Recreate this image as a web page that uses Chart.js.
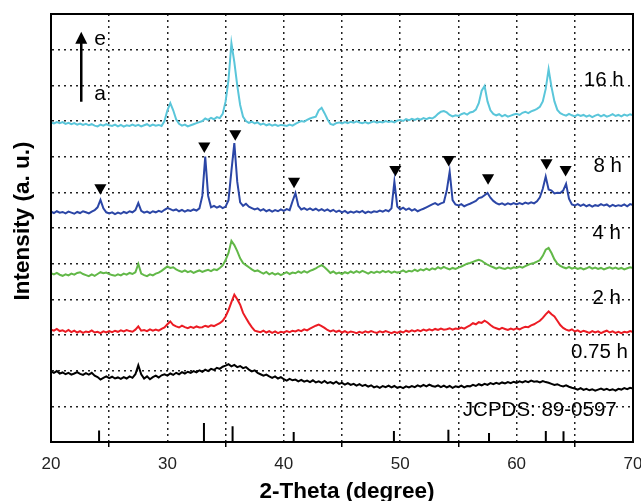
<!DOCTYPE html>
<html>
<head>
<meta charset="utf-8">
<script src="https://cdn.jsdelivr.net/npm/chart.js@4.4.1/dist/chart.umd.min.js"></script>
<style>
    html, body { margin: 0; padding: 0; background: #fff; }
    #wrap { width: 641px; height: 501px; }
</style>
</head>
<body>
<div id="wrap"><canvas id="xrd"></canvas></div>
<script>
// 2-theta grid (degree)
var twoTheta = [
    20, 20.25, 20.5, 20.75, 21, 21.25, 21.5, 21.75, 22, 22.25, 22.5, 22.75, 23, 23.25, 23.5, 23.75,
    24, 24.25, 24.5, 24.75, 25, 25.25, 25.5, 25.75, 26, 26.25, 26.5, 26.75, 27, 27.25, 27.5, 27.75,
    28, 28.25, 28.5, 28.75, 29, 29.25, 29.5, 29.75, 30, 30.25, 30.5, 30.75, 31, 31.25, 31.5, 31.75,
    32, 32.25, 32.5, 32.75, 33, 33.25, 33.5, 33.75, 34, 34.25, 34.5, 34.75, 35, 35.25, 35.5, 35.75,
    36, 36.25, 36.5, 36.75, 37, 37.25, 37.5, 37.75, 38, 38.25, 38.5, 38.75, 39, 39.25, 39.5, 39.75,
    40, 40.25, 40.5, 40.75, 41, 41.25, 41.5, 41.75, 42, 42.25, 42.5, 42.75, 43, 43.25, 43.5, 43.75,
    44, 44.25, 44.5, 44.75, 45, 45.25, 45.5, 45.75, 46, 46.25, 46.5, 46.75, 47, 47.25, 47.5, 47.75,
    48, 48.25, 48.5, 48.75, 49, 49.25, 49.5, 49.75, 50, 50.25, 50.5, 50.75, 51, 51.25, 51.5, 51.75,
    52, 52.25, 52.5, 52.75, 53, 53.25, 53.5, 53.75, 54, 54.25, 54.5, 54.75, 55, 55.25, 55.5, 55.75,
    56, 56.25, 56.5, 56.75, 57, 57.25, 57.5, 57.75, 58, 58.25, 58.5, 58.75, 59, 59.25, 59.5, 59.75,
    60, 60.25, 60.5, 60.75, 61, 61.25, 61.5, 61.75, 62, 62.25, 62.5, 62.75, 63, 63.25, 63.5, 63.75,
    64, 64.25, 64.5, 64.75, 65, 65.25, 65.5, 65.75, 66, 66.25, 66.5, 66.75, 67, 67.25, 67.5, 67.75,
    68, 68.25, 68.5, 68.75, 69, 69.25, 69.5, 69.75, 70
];

// stacked patterns (a. u., offset included)
var pattern075h = [
    1.98, 1.94, 1.99, 1.92, 1.95, 1.90, 1.94, 1.89, 1.92, 1.96, 1.91, 1.88, 1.93, 1.89, 1.94, 1.86,
    1.82, 1.75, 1.80, 1.84, 1.79, 1.83, 1.78, 1.81, 1.77, 1.82, 1.78, 1.84, 1.80, 1.90, 2.15, 1.90,
    1.78, 1.84, 1.76, 1.82, 1.86, 1.81, 1.87, 1.90, 1.86, 1.92, 1.88, 1.94, 1.90, 1.96, 1.92, 1.97,
    1.94, 1.99, 1.95, 2.01, 1.97, 2.03, 1.99, 2.05, 2.02, 2.08, 2.05, 2.11, 2.14, 2.18, 2.12, 2.16,
    2.10, 2.13, 2.07, 2.10, 2.03, 1.98, 2.01, 1.94, 1.90, 1.86, 1.89, 1.84, 1.80, 1.84, 1.78, 1.82,
    1.76, 1.72, 1.77, 1.73, 1.75, 1.70, 1.74, 1.69, 1.72, 1.68, 1.73, 1.67, 1.70, 1.66, 1.71, 1.65,
    1.68, 1.64, 1.69, 1.63, 1.66, 1.61, 1.65, 1.60, 1.63, 1.58, 1.62, 1.57, 1.60, 1.55, 1.59, 1.53,
    1.56, 1.52, 1.57, 1.54, 1.58, 1.53, 1.57, 1.52, 1.55, 1.51, 1.56, 1.53, 1.57, 1.54, 1.59, 1.55,
    1.60, 1.56, 1.61, 1.57, 1.55, 1.59, 1.54, 1.58, 1.53, 1.57, 1.52, 1.56, 1.54, 1.58, 1.53, 1.57,
    1.56, 1.60, 1.57, 1.62, 1.59, 1.63, 1.60, 1.65, 1.62, 1.66, 1.63, 1.67, 1.64, 1.68, 1.65, 1.69,
    1.66, 1.70, 1.67, 1.71, 1.68, 1.72, 1.69, 1.70, 1.67, 1.71, 1.68, 1.66, 1.63, 1.60, 1.62, 1.58,
    1.56, 1.59, 1.55, 1.52, 1.50, 1.47, 1.51, 1.46, 1.49, 1.45, 1.48, 1.44, 1.47, 1.50, 1.46, 1.49,
    1.45, 1.48, 1.44, 1.49, 1.47, 1.51, 1.48, 1.52, 1.50
];
var pattern2h = [
    3.15, 3.12, 3.17, 3.11, 3.13, 3.09, 3.14, 3.08, 3.12, 3.07, 3.11, 3.06, 3.10, 3.08, 3.13, 3.07,
    3.09, 3.05, 3.10, 3.07, 3.11, 3.08, 3.12, 3.09, 3.13, 3.10, 3.14, 3.11, 3.09, 3.15, 3.24, 3.12,
    3.14, 3.11, 3.16, 3.12, 3.15, 3.12, 3.17, 3.21, 3.30, 3.38, 3.28, 3.24, 3.21, 3.26, 3.22, 3.19,
    3.23, 3.20, 3.24, 3.21, 3.22, 3.26, 3.23, 3.27, 3.25, 3.29, 3.33, 3.40, 3.52, 3.70, 3.92, 4.13,
    4.00, 3.85, 3.62, 3.48, 3.34, 3.22, 3.12, 3.10, 3.08, 3.12, 3.07, 3.11, 3.06, 3.10, 3.05, 3.09,
    3.07, 3.11, 3.08, 3.12, 3.10, 3.14, 3.11, 3.16, 3.13, 3.18, 3.22, 3.26, 3.29, 3.25, 3.20, 3.14,
    3.10, 3.13, 3.09, 3.12, 3.07, 3.11, 3.06, 3.10, 3.08, 3.05, 3.09, 3.06, 3.10, 3.07, 3.11, 3.08,
    3.06, 3.10, 3.07, 3.11, 3.08, 3.05, 3.09, 3.06, 3.10, 3.07, 3.12, 3.09, 3.13, 3.10, 3.14, 3.11,
    3.15, 3.12, 3.16, 3.13, 3.17, 3.14, 3.18, 3.15, 3.16, 3.19, 3.15, 3.18, 3.17, 3.21, 3.18, 3.23,
    3.27, 3.33, 3.30, 3.36, 3.34, 3.40, 3.35, 3.28, 3.22, 3.19, 3.16, 3.20, 3.17, 3.14, 3.18, 3.15,
    3.19, 3.16, 3.20, 3.23, 3.22, 3.27, 3.30, 3.35, 3.40, 3.48, 3.58, 3.66, 3.58, 3.52, 3.40, 3.28,
    3.20, 3.15, 3.12, 3.16, 3.10, 3.13, 3.08, 3.12, 3.09, 3.06, 3.11, 3.07, 3.10, 3.05, 3.09, 3.12,
    3.07, 3.10, 3.06, 3.09, 3.05, 3.09, 3.07, 3.11, 3.08
];
var pattern4h = [
    4.73, 4.70, 4.74, 4.69, 4.66, 4.70, 4.67, 4.72, 4.69, 4.74, 4.76, 4.71, 4.68, 4.65, 4.70, 4.66,
    4.71, 4.76, 4.73, 4.75, 4.71, 4.68, 4.66, 4.70, 4.67, 4.72, 4.69, 4.74, 4.71, 4.76, 4.99, 4.72,
    4.68, 4.65, 4.70, 4.67, 4.72, 4.75, 4.80, 4.86, 4.92, 4.88, 4.90, 4.84, 4.80, 4.77, 4.81, 4.76,
    4.79, 4.74, 4.78, 4.81, 4.77, 4.80, 4.83, 4.79, 4.84, 4.82, 4.88, 4.95, 5.10, 5.30, 5.64, 5.52,
    5.35, 5.15, 5.02, 4.96, 4.90, 4.84, 4.79, 4.81, 4.76, 4.72, 4.77, 4.70, 4.74, 4.69, 4.73, 4.68,
    4.72, 4.76, 4.71, 4.75, 4.73, 4.78, 4.74, 4.79, 4.75, 4.80, 4.83, 4.87, 4.92, 4.96, 4.90, 4.82,
    4.74, 4.78, 4.72, 4.75, 4.71, 4.76, 4.73, 4.78, 4.74, 4.79, 4.75, 4.80, 4.76, 4.72, 4.77, 4.74,
    4.78, 4.75, 4.80, 4.76, 4.79, 4.74, 4.78, 4.75, 4.77, 4.81, 4.76, 4.80, 4.78, 4.83, 4.79, 4.84,
    4.81, 4.86, 4.82, 4.87, 4.84, 4.90, 4.86, 4.91, 4.87, 4.84, 4.88, 4.85, 4.89, 4.92, 4.96, 5.00,
    5.02, 5.05, 5.08, 5.11, 5.08, 5.02, 4.97, 4.93, 4.90, 4.86, 4.90, 4.87, 4.85, 4.89, 4.86, 4.90,
    4.88, 4.92, 4.89, 4.93, 4.97, 5.00, 5.02, 5.06, 5.10, 5.22, 5.39, 5.44, 5.30, 5.12, 5.00, 4.94,
    4.90, 4.87, 4.91, 4.86, 4.89, 4.85, 4.88, 4.84, 4.87, 4.91, 4.86, 4.89, 4.85, 4.88, 4.84, 4.87,
    4.90, 4.86, 4.89, 4.85, 4.88, 4.84, 4.87, 4.90, 4.88
];
var pattern8h = [
    6.46, 6.42, 6.47, 6.43, 6.45, 6.41, 6.46, 6.43, 6.40, 6.45, 6.42, 6.47, 6.44, 6.41, 6.46, 6.50,
    6.58, 6.79, 6.55, 6.44, 6.41, 6.44, 6.39, 6.43, 6.40, 6.45, 6.42, 6.47, 6.44, 6.50, 6.70, 6.48,
    6.43, 6.46, 6.42, 6.47, 6.44, 6.48, 6.45, 6.51, 6.56, 6.53, 6.49, 6.52, 6.47, 6.51, 6.46, 6.50,
    6.48, 6.52, 6.49, 6.55, 6.90, 8.00, 6.90, 6.58, 6.62, 6.57, 6.61, 6.56, 6.60, 6.78, 7.60, 8.38,
    7.30, 6.72, 6.62, 6.68, 6.60, 6.56, 6.52, 6.55, 6.49, 6.53, 6.47, 6.51, 6.46, 6.50, 6.47, 6.52,
    6.48, 6.53, 6.50, 6.75, 6.98, 6.62, 6.52, 6.56, 6.51, 6.55, 6.50, 6.54, 6.49, 6.53, 6.48, 6.52,
    6.47, 6.51, 6.45, 6.49, 6.44, 6.48, 6.42, 6.46, 6.43, 6.47, 6.44, 6.48, 6.42, 6.46, 6.43, 6.47,
    6.45, 6.49, 6.46, 6.50, 6.47, 6.55, 7.30, 6.60, 6.52, 6.57, 6.51, 6.55, 6.49, 6.53, 6.47, 6.51,
    6.54, 6.58, 6.62, 6.66, 6.70, 6.65, 6.69, 6.72, 7.05, 7.58, 6.78, 6.66, 6.63, 6.67, 6.61, 6.65,
    6.68, 6.72, 6.76, 6.84, 6.86, 6.92, 6.98, 6.85, 6.76, 6.70, 6.66, 6.69, 6.65, 6.69, 6.66, 6.70,
    6.66, 6.70, 6.67, 6.71, 6.68, 6.72, 6.69, 6.75, 6.86, 7.10, 7.44, 7.08, 7.05, 6.97, 6.99, 6.98,
    7.05, 7.24, 6.82, 6.66, 6.63, 6.67, 6.62, 6.66, 6.61, 6.65, 6.60, 6.64, 6.62, 6.67, 6.63, 6.66,
    6.60, 6.65, 6.61, 6.64, 6.62, 6.66, 6.61, 6.67, 6.64
];
var pattern16h = [
    8.96, 8.93, 8.97, 8.94, 8.97, 8.92, 8.95, 8.91, 8.94, 8.90, 8.93, 8.89, 8.92, 8.88, 8.91, 8.87,
    8.85, 8.90, 8.87, 8.91, 8.88, 8.86, 8.90, 8.85, 8.89, 8.84, 8.88, 8.86, 8.90, 8.86, 8.89, 8.85,
    8.88, 8.91, 8.86, 8.90, 8.87, 8.89, 8.86, 9.00, 9.30, 9.50, 9.30, 9.05, 8.92, 8.87, 8.90, 8.85,
    8.88, 8.91, 8.94, 8.97, 9.00, 9.07, 9.03, 9.09, 9.05, 9.11, 9.08, 9.20, 9.55, 10.15, 11.18, 10.65,
    10.00, 9.45, 9.12, 9.00, 8.95, 8.98, 8.93, 8.96, 8.90, 8.93, 8.88, 8.91, 8.87, 8.90, 8.86, 8.89,
    8.88, 8.86, 8.90, 8.87, 8.92, 8.96, 9.00, 8.98, 9.03, 9.07, 9.10, 9.12, 9.30, 9.37, 9.22, 9.05,
    8.92, 8.89, 8.94, 8.96, 8.93, 8.97, 8.94, 8.98, 8.95, 8.99, 8.96, 8.94, 8.97, 8.93, 8.96, 8.99,
    8.95, 8.98, 8.96, 9.00, 8.97, 8.99, 8.96, 9.01, 9.03, 9.00, 9.05, 9.02, 9.06, 9.03, 9.07, 9.04,
    9.08, 9.05, 9.09, 9.07, 9.12, 9.20, 9.26, 9.28, 9.24, 9.17, 9.13, 9.16, 9.14, 9.19, 9.22, 9.18,
    9.24, 9.26, 9.32, 9.50, 9.85, 9.98, 9.55, 9.30, 9.20, 9.16, 9.19, 9.13, 9.17, 9.12, 9.15, 9.18,
    9.20, 9.17, 9.23, 9.26, 9.22, 9.27, 9.30, 9.34, 9.40, 9.55, 9.90, 10.45, 9.95, 9.55, 9.31, 9.22,
    9.18, 9.15, 9.20, 9.16, 9.13, 9.18, 9.14, 9.17, 9.12, 9.16, 9.11, 9.15, 9.18, 9.13, 9.17, 9.12,
    9.15, 9.19, 9.14, 9.17, 9.13, 9.18, 9.15, 9.19, 9.16
];

// JCPDS 89-0597 reference lines
var jcpdsPos = [24.13, 33.14, 35.6, 40.85, 49.46, 54.14, 57.63, 62.51, 64.03];
var jcpdsInt = [0.32, 0.53, 0.44, 0.28, 0.31, 0.34, 0.25, 0.31, 0.30];

// marked peaks on the 8 h pattern
var markPos = [24.24, 33.17, 35.83, 40.88, 49.58, 54.17, 57.55, 62.57, 64.21];
var markLevel = [7.13, 8.30, 8.64, 7.31, 7.64, 7.92, 7.41, 7.83, 7.64];

var curveLabels = ['0.75 h', '2 h', '4 h', '8 h', '16 h', 'JCPDS: 89-0597'];
var xTitle = '2-Theta (degree)';
var yTitle = 'Intensity (a. u.)';

var FONT = '"Liberation Sans", Arial, sans-serif';
Chart.defaults.font.family = FONT;
Chart.defaults.color = '#222';

var sticks = [];
for (var i = 0; i < jcpdsPos.length; i++) {
    sticks.push({ x: jcpdsPos[i], y: 0 }, { x: jcpdsPos[i], y: jcpdsInt[i] }, { x: jcpdsPos[i], y: null });
}
var marks = markPos.map(function (p, i) { return { x: p, y: markLevel[i] }; });

function curve(label, data, color) {
    return {
        label: label,
        data: data,
        borderColor: color,
        borderWidth: 2,
        pointRadius: 0,
        tension: 0,
        fill: false
    };
}

// text labels, arrow, axis titles and frame
var decor = {
    id: 'decor',
    afterDatasetsDraw: function (chart) {
        var ctx = chart.ctx;
        var xs = chart.scales.x, ys = chart.scales.y;
        var a = chart.chartArea;

        ctx.save();
        ctx.fillStyle = '#000';
        ctx.font = '20.5px ' + FONT;
        ctx.textAlign = 'right';
        ctx.textBaseline = 'middle';
        var spots = [[69.57, 2.5], [68.97, 4.04], [68.97, 5.86], [69.05, 7.72], [69.2, 10.15], [68.6, 0.88]];
        curveLabels.forEach(function (t, i) {
            ctx.fillText(t, xs.getPixelForValue(spots[i][0]), ys.getPixelForValue(spots[i][1]));
        });

        // arrow a -> e
        var ax = xs.getPixelForValue(22.6);
        var y0 = ys.getPixelForValue(9.54), y1 = ys.getPixelForValue(11.5);
        ctx.strokeStyle = '#000';
        ctx.lineWidth = 2.5;
        ctx.beginPath();
        ctx.moveTo(ax, y0);
        ctx.lineTo(ax, y1 + 10);
        ctx.stroke();
        ctx.beginPath();
        ctx.moveTo(ax, y1);
        ctx.lineTo(ax - 6, y1 + 12);
        ctx.lineTo(ax + 6, y1 + 12);
        ctx.closePath();
        ctx.fill();
        ctx.textAlign = 'left';
        ctx.font = '21px ' + FONT;
        ctx.fillText('e', ax + 13, ys.getPixelForValue(11.3));
        ctx.fillText('a', ax + 13, ys.getPixelForValue(9.75));

        // frame
        ctx.lineWidth = 2;
        ctx.strokeRect(a.left, a.top, a.right - a.left, a.bottom - a.top);

        // axis titles
        ctx.font = 'bold 22.5px ' + FONT;
        ctx.textAlign = 'center';
        ctx.textBaseline = 'alphabetic';
        ctx.fillText(xTitle, (a.left + a.right) / 2 + 5, chart.height - 3);
        ctx.translate(29, (a.top + a.bottom) / 2 - 7);
        ctx.rotate(-Math.PI / 2);
        ctx.fillText(yTitle, 0, 0);
        ctx.restore();
    }
};

new Chart(document.getElementById('xrd'), {
    type: 'line',
    data: {
        labels: twoTheta,
        datasets: [
            curve('0.75 h', pattern075h, '#000000'),
            curve('2 h', pattern2h, '#ec1c24'),
            curve('4 h', pattern4h, '#62b848'),
            curve('8 h', pattern8h, '#2b46a6'),
            curve('16 h', pattern16h, '#5ac6da'),
            {
                label: 'JCPDS',
                data: sticks,
                borderColor: '#000',
                borderWidth: 2,
                pointRadius: 0,
                spanGaps: false
            },
            {
                label: 'peaks',
                data: marks,
                showLine: false,
                pointStyle: 'triangle',
                pointRotation: 180,
                pointRadius: 7,
                pointBorderWidth: 0,
                pointBackgroundColor: '#000',
                borderColor: '#000'
            }
        ]
    },
    options: {
        responsive: true,
        maintainAspectRatio: false,
        animation: false,
        events: [],
        layout: { padding: { top: 14, right: 8, left: 0, bottom: 0 } },
        plugins: {
            legend: { display: false },
            tooltip: { enabled: false }
        },
        scales: {
            x: {
                type: 'linear',
                min: 20,
                max: 70,
                afterFit: function (s) {
                    s.height = 59;
                    s.paddingLeft = 0;
                    s.paddingRight = 0;
                },
                ticks: {
                    stepSize: 5,
                    autoSkip: false,
                    maxRotation: 0,
                    padding: 7,
                    color: '#222',
                    font: { size: 17 },
                    callback: function (v) { return v % 10 === 0 ? String(v) : ''; }
                },
                grid: {
                    color: '#222',
                    lineWidth: 1.5,
                    tickLength: 5,
                    tickWidth: 1.5,
                    tickColor: function (c) { return c.tick && c.tick.value % 10 !== 0 ? '#000' : 'rgba(0,0,0,0)'; }
                },
                border: { display: true, color: '#000', width: 2, dash: [2, 4] },
                title: { display: false }
            },
            y: {
                min: 0,
                max: 12,
                afterFit: function (s) { s.width = 51; },
                ticks: { stepSize: 1, display: false },
                grid: { color: '#222', lineWidth: 1.5, drawTicks: false },
                border: { display: true, color: '#000', width: 2, dash: [2, 4] },
                title: { display: false }
            }
        }
    },
    plugins: [decor]
});
</script>
</body>
</html>
